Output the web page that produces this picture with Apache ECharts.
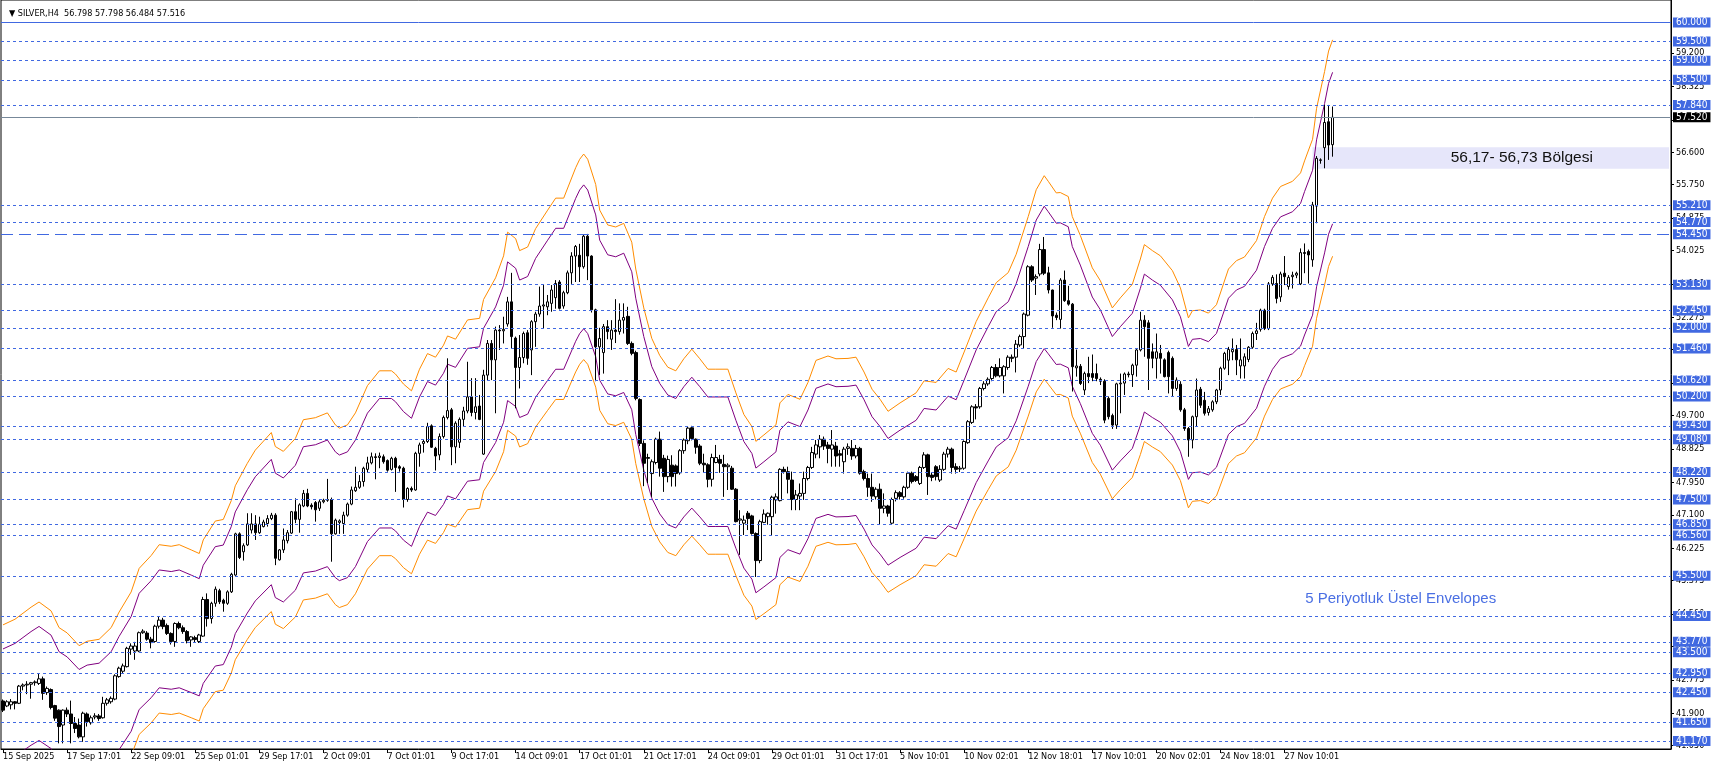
<!DOCTYPE html>
<html><head><meta charset="utf-8">
<script src="https://cdn.jsdelivr.net/npm/echarts@6/dist/echarts.min.js"></script>
<style>html,body{margin:0;padding:0;background:#fff}#c{width:1712px;height:770px}</style>
</head><body><div id="c"></div>
<script>
const symbolName = 'SILVER,H4';
const opens = [
42.22,42.09,42.12,42.20,42.16,42.61,42.64,42.66,42.70,42.68,42.80,42.44,42.52,42.10,41.98,41.59,41.98,41.88,41.63,41.59,
41.28,41.88,41.65,41.80,41.83,41.78,42.16,42.20,42.27,42.86,43.00,43.12,43.58,43.53,43.53,44.01,44.00,43.84,43.78,44.18,
44.34,44.20,43.99,43.78,44.25,44.14,44.04,43.82,43.88,43.78,43.92,44.88,44.38,44.78,45.11,44.86,44.78,45.08,45.52,46.60,
46.13,46.31,46.70,46.86,46.63,46.79,46.87,47.00,47.09,45.92,46.18,46.42,46.62,47.18,46.98,47.33,47.66,47.35,47.42,47.27,
47.44,47.48,47.50,46.60,46.90,46.87,47.09,47.38,47.73,47.82,47.97,48.29,48.46,48.62,48.60,48.62,48.52,48.29,48.58,48.36,
48.32,47.50,47.79,47.75,48.71,48.97,49.02,49.43,48.84,48.67,49.15,49.65,
49.85,48.88,49.00,49.60,49.82,50.19,49.78,49.95,48.69,50.76,51.59,51.16,51.94,51.92,52.10,52.68,51.73,50.96,51.22,51.87,
51.42,52.16,52.36,52.57,52.55,52.64,52.79,53.20,52.57,52.92,53.44,53.88,53.90,53.60,54.40,53.88,52.47,51.50,51.35,52.03,
51.70,51.94,51.90,52.20,52.30,51.59,51.35,50.12,48.97,48.60,48.18,48.47,49.08,48.58,48.10,48.40,48.38,48.20,48.78,49.04,
49.38,49.08,48.90,48.45,48.41,48.03,48.47,48.55,48.42,48.36,48.32,47.77,46.96,46.88,47.14,47.07,46.61,45.90,46.90,47.05,
47.05,47.49,47.47,48.29,48.23,48.01,47.50,47.59,47.66,48.05,48.34,48.69,48.88,49.08,48.93,48.82,48.90,48.70,48.49,48.84,
48.84,48.64,48.84,48.23,48.05,47.82,47.57,47.77,47.27,47.33,
46.88,47.53,47.68,47.57,47.82,48.19,48.10,47.92,48.34,48.67,48.14,48.36,48.01,48.29,48.69,48.82,48.36,48.30,48.32,48.99,
49.52,49.93,49.93,50.41,50.53,50.67,50.96,50.74,50.74,50.96,51.23,51.23,51.55,51.77,52.33,53.60,53.30,53.41,54.05,53.44,
52.99,52.33,52.22,53.25,52.71,52.62,50.95,50.99,50.37,50.80,50.80,50.80,50.65,50.60,50.15,49.70,49.45,50.53,50.55,50.79,
50.77,51.02,51.42,52.20,52.13,51.37,51.20,51.33,51.16,51.35,51.20,50.41,50.52,49.85,49.36,49.06,49.67,50.39,50.10,49.78,
49.85,50.06,50.37,50.94,51.15,51.37,51.43,51.00,51.00,51.17,51.49,51.85,51.96,52.46,51.98,53.15,53.16,52.81,53.43,53.08,
53.34,53.38,53.15,53.97,54.00,53.78,55.19,56.40,56.72,57.40,56.798
];
const highs = [
42.26,42.24,42.27,42.22,42.64,42.68,42.74,42.72,42.76,42.94,42.86,42.60,42.55,42.12,42.00,42.00,42.05,42.23,41.80,41.76,
41.94,41.92,41.84,41.90,41.88,42.33,42.30,42.34,42.92,43.12,43.20,43.64,43.73,43.77,44.04,44.10,44.05,43.90,44.22,44.44,
44.40,44.25,44.02,44.28,44.30,44.20,44.08,43.92,43.93,43.98,44.95,45.04,44.82,45.22,45.16,44.90,45.12,45.58,46.63,46.64,
46.35,47.14,47.14,47.09,47.05,46.97,47.09,47.15,47.14,46.20,46.74,46.70,47.20,47.53,47.40,47.75,47.78,47.40,47.46,47.50,
47.52,48.04,47.55,47.00,46.98,47.18,47.42,47.84,48.36,48.14,48.36,48.62,48.73,48.71,48.73,48.68,48.55,48.62,48.62,48.40,
48.36,47.82,47.84,48.75,48.99,49.07,49.51,49.47,48.88,49.23,49.70,51.20,
49.90,49.55,49.65,49.93,51.11,50.68,50.68,50.24,50.90,51.68,51.68,52.03,52.07,52.29,52.81,53.44,51.77,51.81,51.90,51.94,
52.20,52.42,53.08,53.12,52.86,53.12,53.25,53.25,52.97,53.50,53.98,54.17,54.20,54.44,54.46,53.90,52.50,52.00,52.10,52.20,
52.20,52.75,52.64,52.64,52.55,51.64,51.40,50.15,49.05,48.70,48.55,49.12,49.28,48.67,48.65,48.66,48.42,48.82,49.10,49.40,
49.43,49.10,48.95,48.70,48.45,48.70,48.93,48.67,48.67,48.45,48.38,47.80,47.22,47.08,47.20,47.10,46.64,46.97,47.24,47.16,
47.60,47.66,48.32,48.36,48.36,48.23,47.75,47.92,48.23,48.38,48.88,49.06,49.19,49.15,49.01,49.32,49.01,48.80,48.88,48.97,
49.06,48.93,48.88,48.28,48.18,48.18,47.82,47.92,47.66,47.36,
47.55,47.74,47.72,47.86,48.23,48.23,48.14,48.38,48.74,48.70,48.20,48.40,48.40,48.75,48.88,48.86,48.45,48.38,49.05,49.58,
49.97,50.00,50.45,50.60,50.70,51.00,51.05,51.20,51.02,51.28,51.30,51.68,51.82,52.40,53.64,53.64,53.40,54.20,54.38,53.60,
53.00,52.40,53.30,53.50,53.10,52.65,51.43,51.05,50.85,51.24,51.30,51.06,50.70,50.65,50.20,49.75,50.56,50.80,50.83,50.85,
51.06,51.46,52.42,52.33,52.20,51.59,51.85,51.55,51.20,51.40,51.25,50.70,50.60,49.90,49.40,49.70,50.67,50.45,50.32,49.95,
50.10,50.40,50.98,51.37,51.50,51.72,51.55,51.72,51.33,51.52,51.90,52.13,52.50,52.50,53.20,53.38,53.40,53.47,53.88,53.38,
53.47,53.47,54.08,54.21,54.05,55.30,56.50,56.44,57.84,57.84,57.798
];
const lows = [
41.93,42.06,42.00,42.00,42.14,42.50,42.40,42.28,42.62,42.64,42.25,42.38,42.00,41.70,41.11,41.11,41.80,41.11,41.38,41.24,
41.15,41.55,41.60,41.74,41.70,41.76,42.10,42.15,42.24,42.83,42.95,43.10,43.43,43.30,43.50,43.98,43.80,43.60,43.75,44.12,
44.10,43.95,43.70,43.64,44.10,43.98,43.73,43.64,43.76,43.74,43.90,44.17,44.25,44.69,44.76,44.56,44.74,45.05,45.50,45.94,
45.90,46.28,46.61,46.44,46.60,46.77,46.79,46.96,45.78,45.90,46.10,46.35,46.60,46.88,46.63,47.30,47.30,47.24,46.92,47.20,
47.40,47.44,45.87,46.58,46.60,46.60,47.05,47.35,47.70,47.78,47.84,48.20,48.42,48.03,48.32,48.44,48.23,48.26,47.70,48.23,
47.29,47.44,47.70,47.73,48.36,48.73,48.98,48.85,48.26,48.53,49.10,49.60,
48.40,48.45,48.85,49.40,49.76,49.68,49.60,49.58,48.67,50.62,50.63,49.76,51.42,51.59,52.03,51.46,49.89,50.41,51.07,51.03,
50.76,51.50,52.29,51.98,52.33,52.42,52.50,52.48,52.50,52.88,53.15,53.20,53.20,53.55,53.25,52.40,50.60,50.76,50.80,51.70,
51.42,51.60,51.82,51.85,51.55,51.28,50.10,48.90,47.85,47.93,47.57,48.42,48.10,47.70,47.95,47.84,47.84,48.15,48.70,48.95,
49.05,48.70,48.40,48.20,47.82,47.84,48.45,48.20,47.57,47.75,47.75,46.90,46.05,46.57,46.70,46.58,45.47,45.83,46.88,46.84,
46.57,47.13,47.45,48.18,47.66,47.22,47.22,47.22,47.49,48.00,48.30,48.58,48.58,48.80,48.45,48.36,48.36,48.36,48.18,48.67,
48.54,48.58,48.15,48.00,47.57,47.44,47.50,46.84,47.14,47.05,
46.85,47.45,47.50,47.52,47.78,47.92,47.96,47.88,48.30,47.62,47.98,48.00,47.96,48.25,48.60,48.18,48.18,48.22,48.28,48.96,
49.48,49.60,49.88,50.36,50.48,50.60,50.70,50.70,50.28,50.90,51.10,50.83,51.50,51.46,52.30,53.20,52.86,53.35,53.38,52.90,
52.00,52.20,51.98,52.68,52.58,50.33,50.72,50.50,50.24,50.55,50.60,50.60,50.50,49.50,49.60,49.35,49.35,49.76,50.24,50.70,
50.45,50.72,51.38,51.24,50.37,50.94,50.67,50.80,50.70,50.28,50.20,50.35,49.80,49.30,48.62,48.84,49.40,49.90,49.70,49.70,
49.80,50.00,50.24,50.90,50.76,51.15,50.76,50.67,50.67,51.10,51.45,51.68,51.90,51.94,51.94,53.10,52.64,52.68,53.12,53.00,
53.03,53.30,53.12,53.43,53.16,53.60,54.74,56.30,56.18,56.40,56.484
];
const closes = [
41.98,42.20,42.20,42.16,42.61,42.64,42.66,42.70,42.72,42.80,42.42,42.55,42.05,41.77,41.55,41.98,41.88,41.63,41.50,41.28,
41.90,41.68,41.78,41.83,41.76,42.16,42.25,42.29,42.88,43.08,43.14,43.60,43.66,43.66,44.01,44.05,43.84,43.75,44.18,44.34,
44.17,43.99,43.78,44.25,44.14,44.04,43.80,43.90,43.83,43.95,44.88,44.38,44.78,45.15,44.82,44.78,45.08,45.54,46.60,45.98,
46.29,46.86,46.86,46.63,46.85,46.91,47.00,47.09,45.96,46.18,46.44,46.63,47.18,46.98,47.36,47.66,47.33,47.31,47.23,47.44,
47.48,47.50,46.60,46.96,46.94,47.09,47.38,47.75,47.82,47.97,48.32,48.46,48.62,48.60,48.64,48.49,48.27,48.58,48.34,48.32,
47.50,47.79,47.75,48.71,48.93,49.02,49.41,48.87,48.64,49.15,49.65,49.83,
48.88,49.50,49.60,49.82,50.19,49.78,49.93,49.60,50.76,51.59,51.16,51.94,51.92,51.96,52.68,51.77,50.96,51.22,51.85,51.20,
52.16,52.36,52.57,52.60,52.68,52.99,53.16,52.51,52.92,53.44,53.88,54.13,53.60,54.40,53.88,52.47,51.50,51.72,52.03,51.90,
51.94,51.90,52.20,52.27,51.59,51.33,50.15,48.97,48.45,48.58,48.49,49.08,48.32,48.10,48.55,48.10,48.18,48.78,49.06,49.37,
49.10,48.87,48.45,48.41,48.03,48.60,48.60,48.45,48.36,48.40,47.77,46.92,46.99,46.96,47.00,46.61,45.90,46.92,47.12,47.14,
47.56,47.57,48.29,48.23,48.03,47.50,47.62,47.66,48.05,48.34,48.73,48.93,49.08,48.90,48.84,48.93,48.64,48.66,48.82,48.88,
48.64,48.84,48.19,48.05,47.82,47.59,47.77,47.27,47.33,47.14,
47.50,47.68,47.58,47.82,48.19,47.97,48.00,48.34,48.67,48.10,48.08,48.10,48.29,48.69,48.82,48.34,48.29,48.32,49.02,49.54,
49.93,49.90,50.41,50.53,50.65,50.96,50.74,50.96,50.98,51.23,51.20,51.57,51.77,52.36,53.60,53.25,53.34,54.05,53.43,52.99,
52.31,52.27,53.25,52.71,52.62,50.98,51.00,50.54,50.80,50.72,50.70,50.67,50.60,49.58,49.67,49.45,50.53,50.55,50.79,50.77,
51.02,51.42,52.20,52.03,51.20,51.20,51.37,51.20,50.72,50.72,50.41,50.63,49.85,49.36,49.06,49.67,50.37,49.97,49.76,49.88,
50.06,50.37,50.94,51.33,51.43,51.43,51.16,51.16,51.24,51.49,51.85,51.92,52.46,51.98,53.15,53.32,52.77,53.41,53.34,53.32,
53.38,53.43,53.97,53.95,53.91,55.22,56.44,56.39,57.38,56.79,57.516
];

// x-axis tick labels (one every 16 bars)
const xTickLabels = ['15 Sep 2025','17 Sep 17:01','22 Sep 09:01','25 Sep 01:01','29 Sep 17:01','2 Oct 09:01','7 Oct 01:01',
'9 Oct 17:01','14 Oct 09:01','17 Oct 01:01','21 Oct 17:01','24 Oct 09:01','29 Oct 01:01','31 Oct 17:01','5 Nov 10:01',
'10 Nov 02:01','12 Nov 18:01','17 Nov 10:01','20 Nov 02:01','24 Nov 18:01','27 Nov 10:01'];
const xTickEvery = 16;
const slotCount = 417;

// price-scale tick labels
const yTickValues = [59.200,58.325,57.450,56.600,55.750,54.875,54.025,53.150,52.275,51.425,50.550,49.700,48.825,47.950,
47.100,46.225,45.375,44.500,43.650,42.775,41.900,41.050];

// horizontal level lines
const levelLines = [59.5,59.0,58.5,57.84,55.21,54.77,53.13,52.45,52.0,51.46,50.62,50.2,49.43,49.08,48.22,47.5,46.85,
46.56,45.5,44.45,43.77,43.5,42.95,42.45,41.65,41.17];
const keyLevel = 54.45;
const topLevel = 60.0;
const lastPrice = 57.516;

// zone
const zoneLow = 56.17, zoneHigh = 56.73, zoneStartBar = 327;
const zoneText = '56,17- 56,73 Bölgesi';
const envText = '5 Periyotluk Üstel Envelopes';
const envTextAt = [349, 44.89];

const envBars = [0,3,7,9,12,14,16,19,21,24,27,29,32,34,37,39,42,44,47,49,50,53,55,57,58,61,63,67,68,70,73,75,78,81,83,84,86,88,
91,94,97,98,100,102,104,106,108,110,111,113,116,119,120,123,125,126,128,129,131,133,136,138,140,143,144,145,146,148,149,151,
153,155,157,158,160,162,164,166,168,170,172,174,176,178,181,183,185,187,188,190,193,194,196,199,201,203,206,208,211,213,215,
217,219,221,224,228,230,233,236,238,240,243,246,248,251,253,256,258,260,261,263,264,266,267,269,272,274,277,279,282,284,285,
287,289,292,294,296,297,299,301,303,306,308,310,313,315,317,319,322,324,325,327,328,330,331,332];
const envCenter = [42.11,42.25,42.55,42.68,42.46,42.04,41.91,41.59,41.70,41.75,42.04,42.43,42.93,43.52,43.84,44.11,44.07,44.11,
43.98,43.89,44.23,44.70,44.74,45.21,45.58,46.14,46.47,46.91,46.56,46.44,46.76,47.23,47.28,47.40,47.10,47.02,47.10,47.40,
48.08,48.45,48.45,48.37,48.12,47.95,48.49,48.88,48.79,49.09,49.32,49.24,49.72,49.76,50.23,50.77,51.32,51.91,51.75,51.45,
51.54,52.00,52.46,52.76,52.76,53.52,53.73,53.86,53.73,53.10,52.46,52.09,52.04,52.13,51.66,50.99,50.02,49.26,48.83,48.54,
48.45,48.75,48.99,48.75,48.49,48.49,48.49,47.90,47.36,47.06,46.69,46.85,47.10,47.65,47.86,47.74,48.16,48.71,48.82,48.75,
48.76,48.79,48.42,47.99,47.74,47.44,47.65,47.90,48.20,48.16,48.51,48.42,48.92,49.68,50.27,50.65,50.90,51.36,52.30,52.97,
53.32,53.18,52.89,52.90,52.80,52.30,51.83,51.02,50.70,50.02,50.27,50.61,51.24,51.60,51.45,51.32,50.95,50.52,49.77,49.95,
49.97,49.89,50.10,50.99,51.20,51.29,51.70,52.30,52.76,53.05,53.18,53.39,53.69,54.23,55.00,55.92,56.43,56.71];
const envInnerDev = 0.035, envOuterDev = 0.05;

const FONT = "'DejaVu Sans Condensed', 'Liberation Sans', sans-serif";
const BLUE = '#4169E1';

const categories = Array.from({length: slotCount}, (_, i) => String(i));
const candles = opens.map((o, i) => [o, closes[i], Math.min(lows[i], o, closes[i]), Math.max(highs[i], o, closes[i])]);
const band = (dev) => envBars.map((b, k) => [b, +(envCenter[k] * (1 + dev)).toFixed(3)]);
const last = opens.length - 1;
const header = '▼ ' + symbolName + '  ' + [opens[last], highs[last], lows[last], closes[last]].map(v => v.toFixed(3)).join(' ');

const lvlLabel = (bg, fg) => ({
  show: true, position: 'end', distance: 2, formatter: p => (+p.value).toFixed(3),
  backgroundColor: bg, color: fg, fontSize: 10, fontFamily: FONT, lineHeight: 9, padding: [1, 3, 0, 3]
});
const markLines = [];
levelLines.forEach(v => markLines.push({yAxis: v, lineStyle: {color: BLUE, type: [3, 3], width: 1}, label: lvlLabel(BLUE, '#fff')}));
markLines.push({yAxis: keyLevel, lineStyle: {color: BLUE, type: [12, 6], width: 1}, label: lvlLabel(BLUE, '#fff')});
markLines.push({yAxis: topLevel, lineStyle: {color: BLUE, type: 'solid', width: 1}, label: lvlLabel(BLUE, '#fff')});
markLines.push({yAxis: lastPrice, lineStyle: {color: '#778899', type: 'solid', width: 1}, label: lvlLabel('#000', '#fff')});

const tickShow = (idx) => idx % xTickEvery === 0 && idx / xTickEvery < xTickLabels.length;

const chart = echarts.init(document.getElementById('c'), null, {renderer: 'canvas'});
chart.setOption({
  animation: false,
  backgroundColor: '#fff',
  title: {text: header, left: 4, top: 4, textStyle: {fontSize: 9, fontWeight: 'normal', color: '#000', fontFamily: FONT}},
  grid: {left: 1, right: 41, top: 0, bottom: 21, show: true, borderColor: '#000', borderWidth: 1, backgroundColor: '#fff'},
  xAxis: {
    type: 'category', data: categories, boundaryGap: true,
    axisLine: {show: true, lineStyle: {color: '#000', width: 1}},
    axisTick: {show: true, alignWithLabel: true, interval: (i) => tickShow(i), length: 4, lineStyle: {color: '#000'}},
    axisLabel: {interval: (i) => tickShow(i), formatter: (v, i) => xTickLabels[i / xTickEvery] || '', align: 'left',
      margin: 3, color: '#000', fontSize: 9, fontFamily: FONT},
    splitLine: {show: false}
  },
  yAxis: {
    type: 'value', position: 'right', min: 40.962, max: 60.59, scale: true,
    axisLine: {show: true, lineStyle: {color: '#000', width: 1}},
    axisTick: {show: true, customValues: yTickValues, length: 3, lineStyle: {color: '#000'}},
    axisLabel: {customValues: yTickValues, formatter: v => v.toFixed(3), color: '#000', fontSize: 9, fontFamily: FONT, margin: 5},
    splitLine: {show: false}
  },
  series: [
    {
      type: 'line', data: [], z: 1, silent: true,
      markLine: {symbol: ['none', 'none'], silent: true, animation: false, data: markLines},
      markArea: {silent: true, itemStyle: {color: '#e6e6fa'},
        label: {show: true, position: 'inside', offset: [31, 0], color: '#111', fontSize: 15.5, fontFamily: "'Liberation Sans', Arial, sans-serif"},
        data: [[{xAxis: zoneStartBar, yAxis: zoneLow, name: zoneText}, {xAxis: slotCount - 1, yAxis: zoneHigh}]]},
      markPoint: {silent: true, symbol: 'rect', symbolSize: 1, itemStyle: {color: 'rgba(0,0,0,0)'},
        label: {show: true, position: 'inside', formatter: envText, color: '#4a6fe3', fontSize: 15, fontFamily: "'Liberation Sans', Arial, sans-serif"},
        data: [{coord: envTextAt}]}
    },
    {type: 'line', data: band(envOuterDev), symbol: 'none', z: 2, lineStyle: {color: '#FF8C00', width: 1}, silent: true},
    {type: 'line', data: band(envInnerDev), symbol: 'none', z: 2, lineStyle: {color: '#800080', width: 1}, silent: true},
    {type: 'line', data: band(-envInnerDev), symbol: 'none', z: 2, lineStyle: {color: '#800080', width: 1}, silent: true},
    {type: 'line', data: band(-envOuterDev), symbol: 'none', z: 2, lineStyle: {color: '#FF8C00', width: 1}, silent: true},
    {
      type: 'candlestick', data: candles, z: 3, barWidth: 3, silent: true,
      itemStyle: {color: '#fff', color0: '#000', borderColor: '#000', borderColor0: '#000', borderWidth: 1}
    }
  ]
});
</script></body></html>
